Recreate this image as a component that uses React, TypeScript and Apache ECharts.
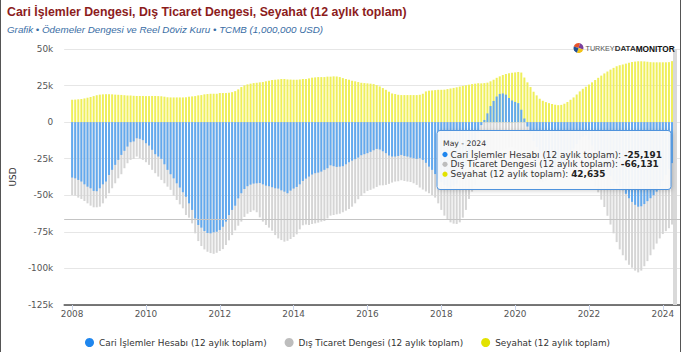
import React, { useEffect, useRef } from "react";
import * as echarts from "echarts";

const startYear = 2008;
const monthNames = ["Jan", "Feb", "Mar", "Apr", "May", "Jun", "Jul", "Aug", "Sep", "Oct", "Nov", "Dec"];
const xTickYears = [2008, 2010, 2012, 2014, 2016, 2018, 2020, 2022, 2024];

const titleText = "Cari İşlemler Dengesi, Dış Ticaret Dengesi, Seyahat (12 aylık toplam)";
const subtitleText = "Grafik • Ödemeler Dengesi ve Reel Döviz Kuru • TCMB (1,000,000 USD)";
const seriesNames = [
  "Cari İşlemler Hesabı (12 aylık toplam)",
  "Dış Ticaret Dengesi (12 aylık toplam)",
  "Seyahat (12 aylık toplam)",
];

// monthly values, Jan 2008 .. May 2024 (million USD)
const cariIslemler = [
  -37900, -38400, -39500, -40600, -42500, -44100, -45200, -47000, -47200, -45200, -42500, -40600,
  -36100, -32600, -29200, -25800, -22400, -19600, -16700, -13700, -13200, -11000, -11400, -12300,
  -14400, -16000, -18900, -21900, -23500, -25100, -28800, -32600, -35600, -38400, -41800, -44700,
  -47900, -51000, -55500, -60000, -65800, -70300, -72100, -74400, -75800, -76000, -75300, -74900,
  -73700, -71500, -68000, -63500, -60000, -57100, -52100, -48600, -45700, -43800, -42700, -42000,
  -41800, -41600, -42500, -43400, -43800, -44500, -45200, -45400, -46600, -47500, -48600, -46800,
  -45400, -44300, -42500, -40200, -38600, -37200, -35800, -34900, -34500, -33800, -32600, -31500,
  -29500, -30100, -30600, -30400, -30100, -28800, -27400, -26300, -25300, -24200, -22600, -21900,
  -21200, -20300, -19200, -18300, -18700, -19900, -21200, -22800, -23500, -23500, -23100, -22400,
  -23100, -23500, -24200, -24700, -25100, -24700, -25800, -27800, -30400, -32600, -35500, -38500,
  -41000, -43000, -44000, -44500, -43500, -42000, -39000, -35000, -30000, -25000, -20000, -14000,
  -7500, -2000, 1500, 6000, 11000, 14500, 17500, 19300, 19600, 18800, 16500, 14800,
  13800, 13000, 8500, 2500, -3000, -8000, -13000, -17000, -21000, -25000, -29000, -32000,
  -34000, -35000, -33000, -30000, -27000, -24000, -21000, -18000, -15000, -12000, -10000, -9000,
  -12000, -16000, -20000, -24000, -28000, -31000, -34000, -37000, -40000, -42000, -44000, -46500,
  -49000, -52000, -54500, -56500, -57800, -57500, -56000, -54000, -52000, -50000, -47500, -44000,
  -40000, -36000, -32000, -28000, -25191,
];

const disTicaret = [
  -49800, -50200, -51600, -52500, -53900, -55500, -57100, -58200, -58200, -57800, -55500, -52100,
  -48600, -45200, -41800, -38400, -35600, -31500, -28100, -25800, -25100, -23500, -24700, -25800,
  -27400, -29200, -32600, -34900, -37200, -39500, -41800, -44100, -46300, -50200, -53200, -56200,
  -58900, -63500, -65300, -69200, -76000, -81300, -84700, -87000, -88600, -89500, -90000, -89300,
  -88100, -86800, -84000, -80800, -77200, -74000, -70800, -68000, -64800, -62600, -61400, -60300,
  -61600, -65100, -68000, -70300, -72100, -74200, -77200, -79500, -80600, -81700, -81100, -79900,
  -78500, -76700, -73300, -70500, -70000, -70300, -69600, -69200, -68700, -68000, -67600, -65800,
  -63900, -63500, -63000, -62600, -61600, -60500, -59400, -57800, -55500, -52700, -50500, -48600,
  -47000, -46300, -45400, -44300, -43200, -43200, -42900, -42200, -41300, -40600, -40400, -39700,
  -40200, -40600, -40900, -41800, -42900, -44700, -46100, -47400, -48600, -49800, -51600, -55500,
  -60000, -63900, -66900, -68500, -69400, -69600, -68500, -65300, -60000, -52500, -47500, -43000,
  -39000, -35000, -31000, -28000, -25000, -23000, -21000, -20000, -19000, -18000, -17500, -17000,
  -18000, -20000, -24000, -29000, -33000, -36000, -38000, -40000, -41000, -41000, -40000, -38000,
  -37000, -36000, -34000, -31000, -29000, -28000, -28000, -28000, -29000, -29000, -29000, -30000,
  -35000, -40000, -44000, -48000, -53000, -58000, -64000, -70000, -76000, -82000, -87000, -91000,
  -94500, -97500, -99500, -101500, -102700, -101500, -98500, -95000, -91000, -87000, -83000, -79500,
  -76500, -74500, -72500, -70000, -66131,
];

const seyahat = [
  15300, 15400, 15600, 15800, 16200, 16700, 17200, 17800, 18400, 18800, 19000, 19100,
  19100, 19000, 18800, 18700, 18600, 18400, 18200, 18200, 18000, 17900, 17900, 17900,
  17800, 17800, 17900, 17900, 17800, 17700, 17400, 17000, 16900, 16900, 16900, 16900,
  16900, 17000, 17400, 17600, 17800, 18300, 18500, 19000, 19200, 19400, 19400, 19400,
  19900, 19900, 19900, 20100, 20500, 21200, 22400, 24000, 25100, 25800, 26300, 26700,
  26900, 27200, 27400, 27900, 28300, 28800, 29000, 29200, 29500, 29500, 29200, 29100,
  29000, 29000, 29200, 29500, 29500, 29900, 30400, 30600, 30800, 30800, 30800, 31100,
  31100, 31300, 31200, 30800, 30100, 29500, 29000, 28300, 27900, 27400, 26900, 26700,
  26500, 26300, 26000, 25300, 24400, 23300, 22100, 20800, 19600, 19200, 18700, 18500,
  18500, 18500, 18500, 18500, 18500, 18700, 19400, 21000, 21500, 21700, 21900, 22100,
  22100, 22200, 22600, 23000, 23400, 23800, 24300, 24800, 25200, 25600, 26000, 26300,
  26600, 26500, 26700, 27000, 27900, 29000, 30300, 31300, 32200, 32900, 33400, 33800,
  34000, 34300, 33900, 30500, 27200, 24000, 20800, 18300, 16000, 14600, 13700, 13000,
  12400, 11900, 11600, 11800, 12600, 13800, 15300, 16900, 18900, 21000, 22800, 24200,
  25700, 27200, 28800, 30300, 31800, 33300, 34600, 35900, 37100, 38200, 38900, 39400,
  40000, 40600, 41100, 41400, 41600, 41600, 41500, 41300, 41000, 40900, 40900, 40900,
  40900, 40900, 41000, 41700, 42635,
];

const barColors = ["#62a9ef", "#d5d5d5", "#efef5a"];
const dotColors = ["#1f86ee", "#bdbdbd", "#e2e200"];

const DEJAVU = "'DejaVu Sans', sans-serif";
const ARIAL = "'Liberation Sans', Arial, sans-serif";

function fmt(v: number): string {
  return v.toLocaleString("en-US");
}

export default function App() {
  const ref = useRef<HTMLDivElement>(null);

  useEffect(() => {
    document.body.style.margin = "0";
    const el = ref.current;
    if (!el) return;
    const chart = echarts.init(el, undefined, { renderer: "svg", width: 682, height: 352 });

    const last = cariIslemler.length - 1;
    const header = `${monthNames[last % 12]} - ${startYear + Math.floor(last / 12)}`;
    const tickValues = xTickYears.map((y) => (y - startYear) * 12);
    const allSeries = [cariIslemler, disTicaret, seyahat];
    const lastValues = allSeries.map((s) => s[last]);
    const zOrder = [4, 2, 3];

    const series: any[] = allSeries.map((arr, k) => ({
      name: seriesNames[k],
      type: "bar",
      data: arr.map((v, i) => [i, v]),
      barWidth: 2,
      barGap: "-100%",
      z: zOrder[k],
      silent: true,
      itemStyle: { color: barColors[k] },
    }));
    series[1].markLine = {
      silent: true,
      symbol: ["none", "none"],
      label: { show: false },
      data: [
        { xAxis: last, lineStyle: { color: "#d9d9d9", width: 4, type: "solid" } },
        { yAxis: lastValues[1], lineStyle: { color: "#c4c4c4", width: 1, type: "solid" } },
      ],
    };

    const TZ = 200;
    const tipLineY = [154.5, 164.3, 174.2];
    const tooltipChildren: any[] = [
      {
        type: "rect",
        z: TZ,
        shape: { x: 437, y: 130.5, width: 234, height: 59, r: 3 },
        style: {
          fill: "rgba(250,250,250,0.95)",
          stroke: "#4f93dd",
          lineWidth: 1,
          shadowBlur: 4,
          shadowOffsetX: 1,
          shadowOffsetY: 1,
          shadowColor: "rgba(0,0,0,0.18)",
        },
      },
      {
        type: "text",
        z: TZ + 1,
        style: {
          text: header,
          x: 443,
          y: 143.5,
          align: "left",
          verticalAlign: "middle",
          fontFamily: DEJAVU,
          fontSize: 7.7,
          fill: "#333",
        },
      },
    ];
    seriesNames.forEach((name, k) => {
      tooltipChildren.push({
        type: "circle",
        z: TZ + 1,
        shape: { cx: 445, cy: tipLineY[k], r: 2.6 },
        style: { fill: dotColors[k] },
      });
      tooltipChildren.push({
        type: "text",
        z: TZ + 1,
        style: {
          text: `{a|${name}: }{b|${fmt(lastValues[k])}}`,
          x: 450.5,
          y: tipLineY[k],
          align: "left",
          verticalAlign: "middle",
          rich: {
            a: { fontFamily: DEJAVU, fontSize: 8.9, fill: "#333", color: "#333" },
            b: { fontFamily: DEJAVU, fontSize: 8.9, fontWeight: "bold", fill: "#222", color: "#222" },
          },
        },
      });
    });

    const logoCx = 578.5;
    const logoCy = 48;
    const logoColors = ["#e8532a", "#7a3f9d", "#f2c318", "#23508f"];
    const logo: any[] = logoColors.map((c, k) => ({
      type: "sector",
      z: TZ,
      shape: {
        cx: logoCx,
        cy: logoCy,
        r: 5,
        r0: 0,
        startAngle: -Math.PI * 0.9 + (k * Math.PI) / 2,
        endAngle: -Math.PI * 0.9 + ((k + 1) * Math.PI) / 2,
      },
      style: { fill: c },
    }));
    logo.push({
      type: "text",
      z: TZ,
      style: {
        text: "{t|TURKEY}{d|DATA}{m|MONITOR}",
        x: 585.5,
        y: 48.5,
        align: "left",
        verticalAlign: "middle",
        rich: {
          t: { fontFamily: ARIAL, fontSize: 7.2, fill: "#555", color: "#555" },
          d: { fontFamily: ARIAL, fontSize: 8, fontWeight: "bold", fill: "#333", color: "#333" },
          m: { fontFamily: ARIAL, fontSize: 8.3, fontWeight: "bold", fill: "#111", color: "#111" },
        },
      },
    });

    const option: any = {
      animation: false,
      backgroundColor: "#ffffff",
      textStyle: { fontFamily: DEJAVU },
      title: [
        {
          text: titleText,
          left: 7,
          top: 6,
          padding: 0,
          textStyle: { fontFamily: ARIAL, fontSize: 12.3, fontWeight: "bold", color: "#8c1c1c" },
        },
        {
          text: subtitleText,
          left: 7,
          top: 24,
          padding: 0,
          textStyle: { fontFamily: ARIAL, fontSize: 9.8, fontStyle: "italic", fontWeight: "normal", color: "#3a6ea5" },
        },
      ],
      grid: { left: 60, right: 2, top: 49, bottom: 47 },
      xAxis: {
        type: "value",
        min: -2.583,
        max: 197.59,
        splitLine: { show: false },
        axisLine: { show: true, onZero: false, lineStyle: { color: "#4d4d4d", width: 1.5 } },
        axisTick: { show: true, customValues: tickValues, length: 5, lineStyle: { color: "#ccd6eb", width: 1 } },
        axisLabel: {
          customValues: tickValues,
          formatter: (v: number) => String(startYear + Math.round(v / 12)),
          margin: 4,
          fontSize: 8.9,
          fontFamily: DEJAVU,
          color: "#555",
        },
      },
      yAxis: {
        type: "value",
        min: -125000,
        max: 50000,
        interval: 25000,
        name: "USD",
        nameLocation: "middle",
        nameGap: 46,
        nameTextStyle: { fontFamily: DEJAVU, fontSize: 8.9, color: "#333" },
        axisLine: { show: false },
        axisTick: { show: false },
        splitLine: { lineStyle: { color: "#e6e6e6", width: 1 } },
        axisLabel: {
          formatter: (v: number) => (v === 0 ? "0" : `${v / 1000}k`),
          margin: 11,
          fontSize: 8.9,
          fontFamily: DEJAVU,
          color: "#555",
        },
      },
      legend: {
        left: 80,
        top: 333,
        icon: "circle",
        itemWidth: 9,
        itemHeight: 9,
        itemGap: 18,
        selectedMode: false,
        textStyle: { fontFamily: DEJAVU, fontSize: 8.9, color: "#333" },
        data: seriesNames.map((n, k) => ({ name: n, itemStyle: { color: dotColors[k] } })),
      },
      series,
      graphic: [
        ...tooltipChildren,
        ...logo,
        { type: "line", z: TZ, shape: { x1: 0.5, y1: 0, x2: 0.5, y2: 352 }, style: { stroke: "#555", lineWidth: 1 } },
        { type: "line", z: TZ, shape: { x1: 680.5, y1: 0, x2: 680.5, y2: 352 }, style: { stroke: "#555", lineWidth: 1 } },
      ],
    };

    chart.setOption(option);
    return () => chart.dispose();
  }, []);

  return <div ref={ref} style={{ position: "absolute", left: 0, top: 0, width: 682, height: 352 }} />;
}
